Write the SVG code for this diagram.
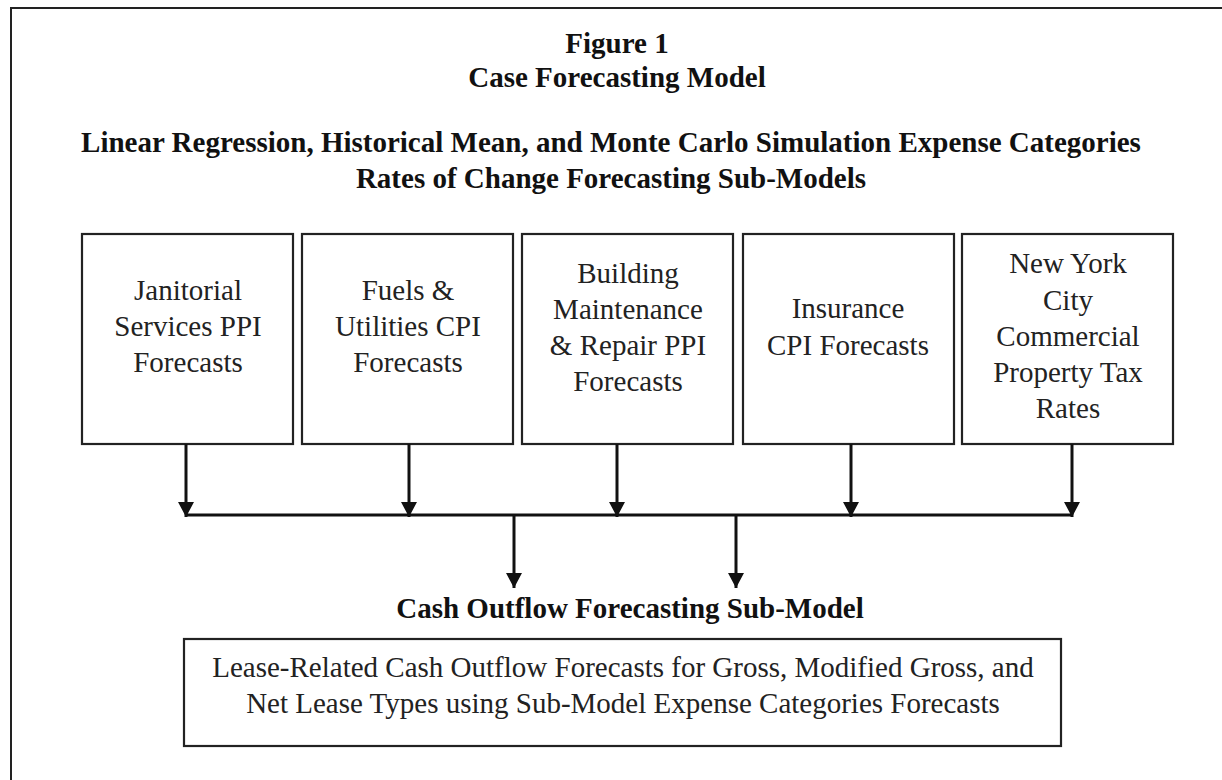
<svg xmlns="http://www.w3.org/2000/svg" width="1222" height="780" viewBox="0 0 1222 780">
  <style>
    .frame { fill: none; stroke: #222; stroke-width: 2; }
    .box { fill: #fff; stroke: #222; stroke-width: 2.2; }
    .title { font-family: "Liberation Serif", "Times New Roman", serif; font-weight: bold; font-size: 29px; fill: #111; text-anchor: middle; }
    .label { font-family: "Liberation Serif", "Times New Roman", serif; font-size: 29px; fill: #222; text-anchor: middle; }
    .wire { fill: none; stroke: #111; stroke-width: 3; }
  </style>
  <defs>
    <marker id="head" markerUnits="userSpaceOnUse" markerWidth="16" markerHeight="16" refX="15" refY="8" orient="auto">
      <path d="M0,0 L15,8 L0,16 z" fill="#111"/>
    </marker>
  </defs>

  <rect class="frame" x="11" y="8" width="1222" height="790"/>

  <g id="headings">
    <text class="title" x="617" y="53">Figure 1</text>
    <text class="title" x="617" y="87">Case Forecasting Model</text>
    <text class="title" x="611" y="152">Linear Regression, Historical Mean, and Monte Carlo Simulation Expense Categories</text>
    <text class="title" x="611" y="188">Rates of Change Forecasting Sub-Models</text>
  </g>

  <g id="janitorial">
    <rect class="box" x="82" y="234" width="211" height="210"/>
    <text class="label" x="188" y="300">Janitorial</text>
    <text class="label" x="188" y="336">Services PPI</text>
    <text class="label" x="188" y="372">Forecasts</text>
  </g>

  <g id="fuels">
    <rect class="box" x="302" y="234" width="211" height="210"/>
    <text class="label" x="408" y="300">Fuels &amp;</text>
    <text class="label" x="408" y="336">Utilities CPI</text>
    <text class="label" x="408" y="372">Forecasts</text>
  </g>

  <g id="maintenance">
    <rect class="box" x="522" y="234" width="211" height="210"/>
    <text class="label" x="628" y="283">Building</text>
    <text class="label" x="628" y="319">Maintenance</text>
    <text class="label" x="628" y="355">&amp; Repair PPI</text>
    <text class="label" x="628" y="391">Forecasts</text>
  </g>

  <g id="insurance">
    <rect class="box" x="743" y="234" width="211" height="210"/>
    <text class="label" x="848" y="318">Insurance</text>
    <text class="label" x="848" y="355">CPI Forecasts</text>
  </g>

  <g id="property-tax">
    <rect class="box" x="962" y="234" width="211" height="210"/>
    <text class="label" x="1068" y="273">New York</text>
    <text class="label" x="1068" y="310">City</text>
    <text class="label" x="1068" y="346">Commercial</text>
    <text class="label" x="1068" y="382">Property Tax</text>
    <text class="label" x="1068" y="418">Rates</text>
  </g>

  <g id="connectors">
    <line class="wire" x1="186" y1="515" x2="1072" y2="515"/>
    <line class="wire" x1="186" y1="444" x2="186" y2="517" marker-end="url(#head)"/>
    <line class="wire" x1="409" y1="444" x2="409" y2="517" marker-end="url(#head)"/>
    <line class="wire" x1="617" y1="444" x2="617" y2="517" marker-end="url(#head)"/>
    <line class="wire" x1="851" y1="444" x2="851" y2="517" marker-end="url(#head)"/>
    <line class="wire" x1="1072" y1="444" x2="1072" y2="517" marker-end="url(#head)"/>
    <line class="wire" x1="514" y1="515" x2="514" y2="588" marker-end="url(#head)"/>
    <line class="wire" x1="736" y1="515" x2="736" y2="588" marker-end="url(#head)"/>
  </g>

  <g id="cash-outflow">
    <text class="title" x="630" y="618">Cash Outflow Forecasting Sub-Model</text>
    <rect class="box" x="184" y="639" width="877" height="107"/>
    <text class="label" x="623" y="677">Lease-Related Cash Outflow Forecasts for Gross, Modified Gross, and</text>
    <text class="label" x="623" y="713">Net Lease Types using Sub-Model Expense Categories Forecasts</text>
  </g>
</svg>
